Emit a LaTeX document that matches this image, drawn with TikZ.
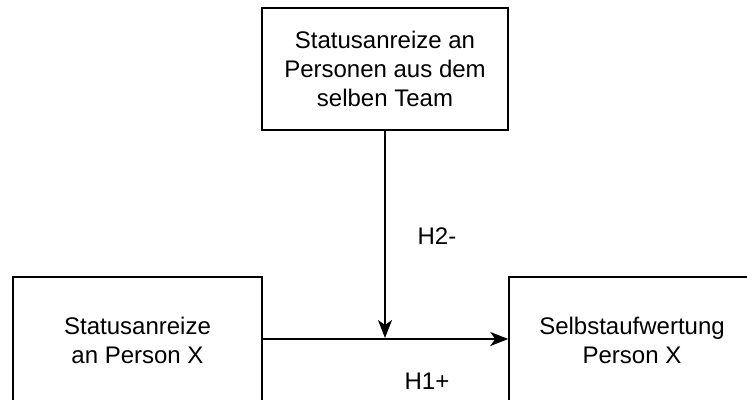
\documentclass[tikz,border=0pt]{standalone}
\usepackage{fontspec}
\setmainfont{Liberation Sans}
\usetikzlibrary{arrows.meta}
\begin{document}
\begin{tikzpicture}[x=1pt,y=-1pt,
  box/.style={draw=black,line width=1.5pt,minimum width=246pt,minimum height=122pt,align=center,inner sep=0pt,font=\fontsize{24}{29}\selectfont},
  txt/.style={align=center,inner sep=0pt,font=\fontsize{24}{29}\selectfont},
  lbl/.style={font=\fontsize{24}{29}\selectfont,inner sep=0pt},
  conn/.style={line width=1.5pt,-{Stealth[length=18pt,width=14pt,inset=5pt]}}]
\useasboundingbox (0,0) rectangle (747,399);
\clip (0,0) rectangle (747,399);
\node[box] (team) at (385,69) {Statusanreize an\\Personen aus dem\\selben Team};
\node[box,minimum width=249pt,minimum height=126pt] (px) at (137.5,340) {Statusanreize\\an Person X};
\node[box,minimum width=300pt,minimum height=126pt] (selfbox) at (659,340) {};
\node[txt] (self) at (632,340) {Selbstaufwertung\\Person X};
\coordinate (m) at (385,338);
\draw[conn] (px.east |- 0,339) -- (selfbox.west |- 0,339);
\draw[conn] (team.south) -- (m);
\node[lbl] (h2) at (437,236) {H2-};
\node[lbl] (h1) at (427,381) {H1+};
\end{tikzpicture}
\end{document}
